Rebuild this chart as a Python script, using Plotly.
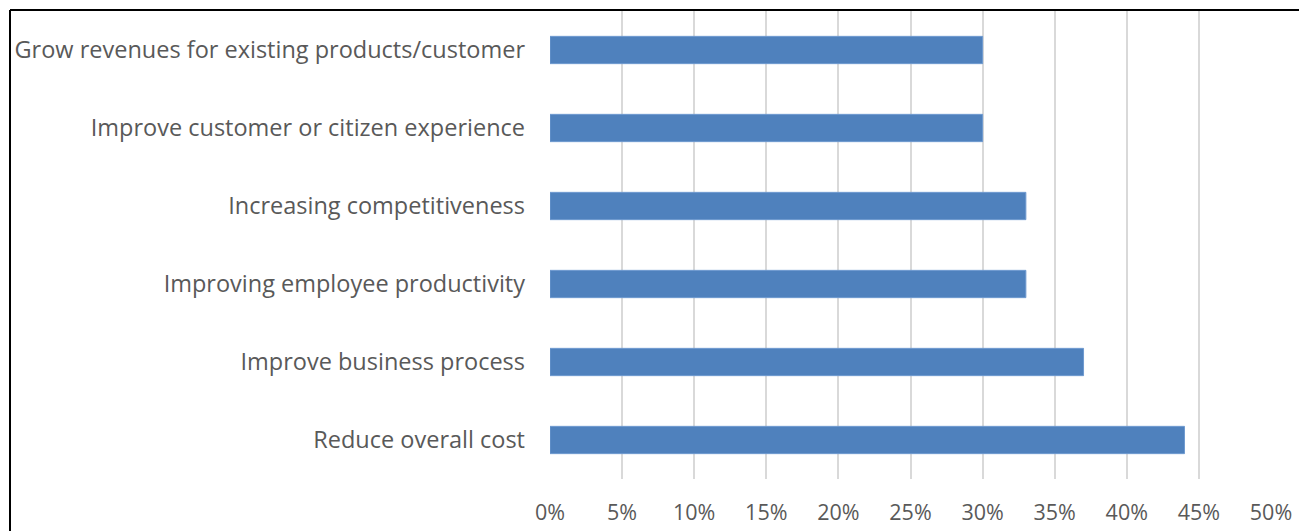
import plotly.graph_objects as go

categories = [
    "Reduce overall cost",
    "Improve business process",
    "Improving employee productivity",
    "Increasing competitiveness",
    "Improve customer or citizen experience",
    "Grow revenues for existing products/customer",
]
values = [0.44, 0.37, 0.33, 0.33, 0.30, 0.30]
x_ticks = [0, 0.05, 0.10, 0.15, 0.20, 0.25, 0.30, 0.35, 0.40, 0.45, 0.50]
x_tick_labels = ["0%", "5%", "10%", "15%", "20%", "25%", "30%", "35%", "40%", "45%", "50%"]

W, H = 1299, 531
L, R, T, B = 550, 28, 11, 52
pw, ph = W - L - R, H - T - B

fig = go.Figure(go.Bar(
    x=values, y=categories, orientation="h",
    marker=dict(color="#4F81BD", line=dict(color="#6F9AD0", width=1)),
    width=0.35,
))

fig.update_layout(
    width=W, height=H,
    margin=dict(l=L, r=R, t=T, b=B, pad=0, autoexpand=False),
    paper_bgcolor="white", plot_bgcolor="white",
    font=dict(family="Open Sans", size=19, color="#595959"),
    showlegend=False,
    shapes=[
        dict(type="line", xref="paper", yref="paper",
             x0=(10 - L) / pw, x1=(W + 5 - L) / pw,
             y0=1 + (T - 10) / ph, y1=1 + (T - 10) / ph,
             line=dict(color="black", width=2)),
        dict(type="line", xref="paper", yref="paper",
             x0=(10 - L) / pw, x1=(10 - L) / pw,
             y0=1 + (T - 10) / ph, y1=-(H + 5 - (H - B)) / ph,
             line=dict(color="black", width=2)),
    ],
)
fig.update_xaxes(
    range=[0, 0.5], tickvals=x_ticks, ticktext=x_tick_labels,
    showgrid=True, gridcolor="#D9D9D9", gridwidth=2,
    zeroline=False, showline=False, ticks="",
    ticklabelstandoff=18, automargin=False,
    tickfont=dict(size=21.5, color="#595959"),
)
fig.update_yaxes(
    categoryorder="array", categoryarray=categories,
    range=[-0.5, 5.5],
    showgrid=False, zeroline=False, showline=False, ticks="",
    ticklabelstandoff=24, automargin=False,
    tickfont=dict(size=23.5, color="#595959"),
)

fig.write_html("out.html")
